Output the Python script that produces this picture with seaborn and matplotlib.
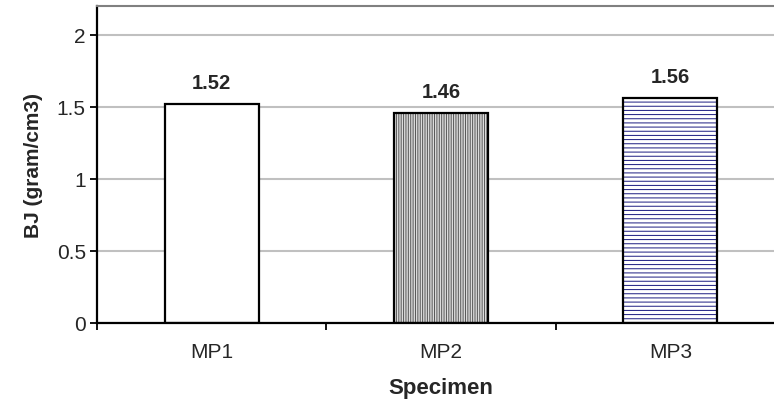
import matplotlib
matplotlib.use("Agg")
import matplotlib.pyplot as plt
import seaborn as sns
import pandas as pd
from matplotlib.ticker import FixedLocator

specimens = ["MP1", "MP2", "MP3"]
bj_values = [1.52, 1.46, 1.56]
value_labels = ["1.52", "1.46", "1.56"]

sns.set_style("white")
plt.rcParams['font.family'] = ['Liberation Sans', 'DejaVu Sans']
plt.rcParams['hatch.linewidth'] = 0.7

df = pd.DataFrame({"Specimen": specimens, "BJ": bj_values})

fig = plt.figure(figsize=(7.74, 4.10), dpi=100)
ax = fig.add_axes([0.1253, 0.2098, 1.0142 - 0.1253, 0.983 - 0.2098])

sns.barplot(data=df, x="Specimen", y="BJ", width=0.41, color="white",
            linewidth=0, saturation=1, ax=ax, zorder=2)
styles = [("white", "white", ""), ("#dcdcdc", "#555555", "|" * 7), ("white", "#1a1a80", "-" * 4)]
for patch, (fc, hc, h) in zip(ax.patches, styles):
    patch.set_facecolor(fc)
    patch.set_edgecolor(hc)
    patch.set_hatch(h)
    patch.set_linewidth(0)

sns.barplot(data=df, x="Specimen", y="BJ", width=0.41, fill=False, color="black",
            linewidth=1.6, ax=ax, zorder=3)

ax.bar_label(ax.containers[0], labels=value_labels, padding=8.5, fontsize=14.5,
             fontweight="bold")

ax.set_ylim(0, 2.2)
ax.set_xlim(-0.5, 2.5)
ax.yaxis.set_major_locator(FixedLocator([0, 0.5, 1, 1.5, 2]))
ax.set_yticklabels(["0", "0.5", "1", "1.5", "2"])
ax.yaxis.grid(True, color="#c0c0c0", linewidth=1.5, zorder=0)
ax.set_axisbelow(True)

ax.xaxis.set_minor_locator(FixedLocator([-0.5, 0.5, 1.5, 2.5]))
ax.tick_params(axis="x", which="major", length=0, pad=14, labelsize=15)
ax.tick_params(axis="x", which="minor", length=5, width=1.3, color="black", direction="out", bottom=True)
ax.tick_params(axis="y", length=5, width=1.3, color="black", direction="out", left=True, labelsize=15, pad=3)

for side in ["left", "bottom"]:
    ax.spines[side].set_color("black")
    ax.spines[side].set_linewidth(1.6)
ax.spines["top"].set_color("#808080")
ax.spines["top"].set_linewidth(1.5)
ax.spines["right"].set_visible(False)

ax.set_xlabel("Specimen", fontsize=16, fontweight="bold", labelpad=11)
ax.set_ylabel("BJ (gram/cm3)", fontsize=15, fontweight="bold", labelpad=10)

fig.savefig("out.png", dpi=100)
